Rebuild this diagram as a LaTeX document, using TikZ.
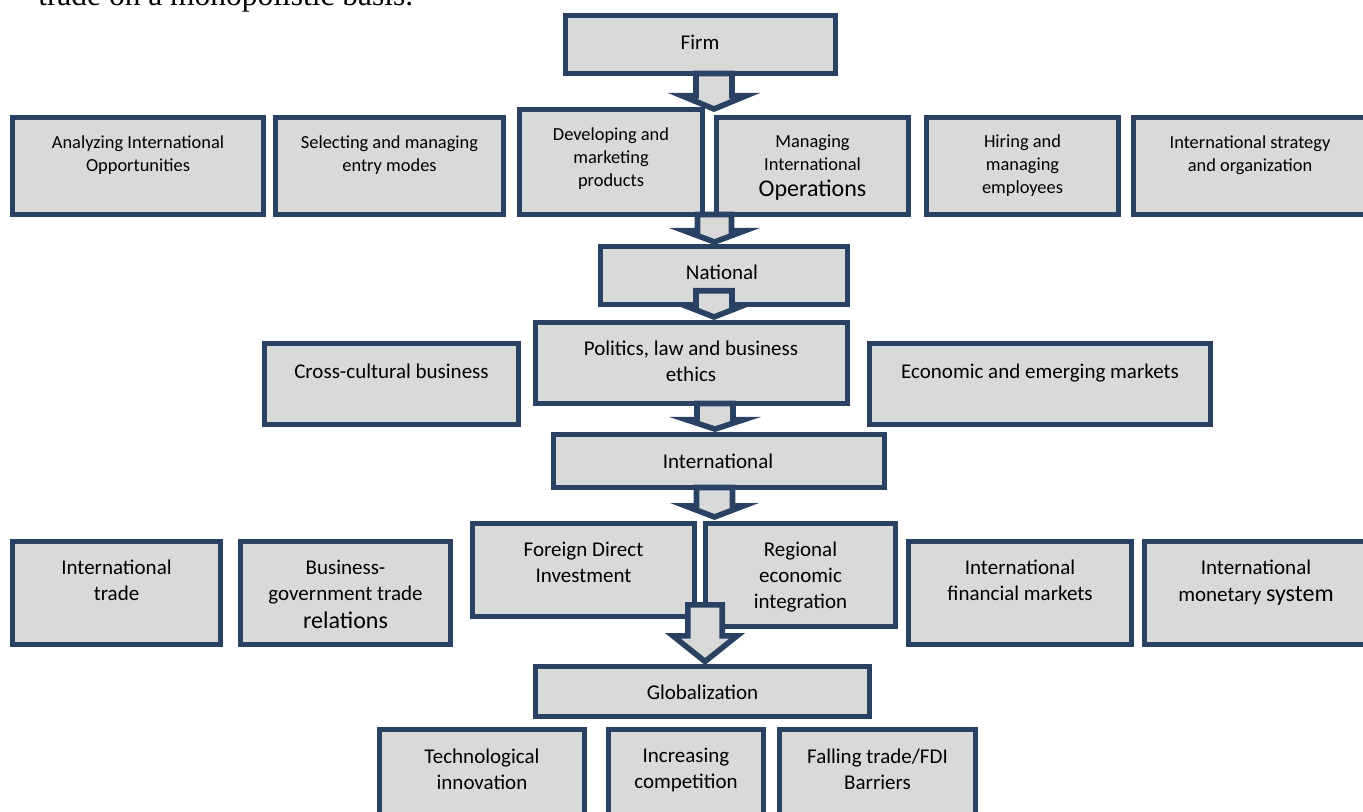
\documentclass[tikz,border=0pt]{standalone}
\usepackage{fontspec}
\setmainfont{Carlito}
\newfontfamily\topserif{Liberation Serif}
\usetikzlibrary{calc,fit}
\definecolor{bxline}{RGB}{41,65,99}
\definecolor{bxfill}{RGB}{217,217,217}
\tikzset{
  box/.style={draw=bxline, fill=bxfill, line width=3.75pt, inner sep=0pt, outer sep=0pt, rectangle},
  txt/.style={align=center, inner sep=0pt, text=black},
  fone/.style={font=\fontsize{13.8}{17.25}\selectfont},
  fmid/.style={font=\fontsize{15.75}{19.5}\selectfont},
  blk/.style={draw=bxline, fill=bxfill, line width=4.2pt, line join=miter, miter limit=10},
}
% box from outer edges (pixels): name, x1, y1, x2, y2
\newcommand\mkbox[5]{%
  \coordinate (#1-a) at (#2+2.5,#3+2.5);
  \coordinate (#1-b) at (#4-2.5,#5-2.5);
  \node[box, fit=(#1-a)(#1-b)] (#1) {};}
% block arrow: from, to, cx, top offset, shaft half, head half, head height, tip offset
\newcommand\blkarrow[8]{%
  \coordinate (ax) at (#3,0);
  \draw[blk] ($(ax |- #1.south)+(-#5,#4)$) -- ($(ax |- #2.north)+(-#5,#8-#7)$)
    -- ($(ax |- #2.north)+(-#6,#8-#7)$) -- ($(ax |- #2.north)+(0,#8)$)
    -- ($(ax |- #2.north)+(#6,#8-#7)$) -- ($(ax |- #2.north)+(#5,#8-#7)$)
    -- ($(ax |- #1.south)+(#5,#4)$) -- cycle;}
\begin{document}
\begin{tikzpicture}[x=0.75pt,y=-0.75pt]
\useasboundingbox (0,0) rectangle (1363,812);
\clip (0,0) rectangle (1363,812);

\node[anchor=base west, inner sep=0pt, font=\fontsize{23.6}{28}\topserif] (topline) at (38,6) {trade on a monopolistic basis.};

% boxes
\mkbox{firm}{563}{13}{838}{76}
\mkbox{ana}{10}{115}{266}{217}
\mkbox{sel}{273}{115}{506}{217}
\mkbox{dev}{517}{107}{705}{217}
\mkbox{man}{714}{115}{911}{217}
\mkbox{hir}{924}{115}{1121}{217}
\mkbox{str}{1131}{115}{1372}{217}
\mkbox{nat}{598}{244}{850}{307}
\mkbox{pol}{533}{320}{850}{406}
\mkbox{cro}{262}{341}{521}{427}
\mkbox{eco}{867}{341}{1213}{427}
\mkbox{int}{551}{432}{887}{490}
\mkbox{tra}{10}{539}{223}{647}
\mkbox{biz}{238}{539}{453}{647}
\mkbox{fdi}{470}{521}{697}{619}
\mkbox{reg}{703}{521}{898}{629}
\mkbox{fin}{906}{539}{1134}{647}
\mkbox{mon}{1142}{539}{1372}{647}
\mkbox{glo}{533}{664}{872}{719}
\mkbox{tec}{377}{727}{587}{830}
\mkbox{inc}{606}{727}{766}{830}
\mkbox{fal}{777}{727}{978}{830}

% block arrows
\blkarrow{firm}{man}{714}{0}{18}{32}{13.2}{-8.5}
\blkarrow{man}{nat}{714.5}{0}{17}{30}{11.2}{-4.5}
\blkarrow{nat}{pol}{714}{-13.7}{18}{26}{10.2}{-5.5}
\blkarrow{pol}{int}{715}{0}{18}{28.3}{9.3}{-5.4}
\blkarrow{int}{fdi}{714.5}{0}{18}{29.3}{11.2}{-6.5}
\blkarrow{fdi}{glo}{705}{-11.7}{17.2}{32}{25.6}{-5}

% texts
\node[txt,fmid] (firm-t) at (700,42) {Firm};
\node[txt,fone] (ana-t) at (138,155.5) {Analyzing International\\Opportunities};
\node[txt,fone] (sel-t) at (389.5,155.5) {Selecting and managing\\entry modes};
\node[txt,fone] (dev-t) at (611,159) {Developing and\\marketing\\products};
\node[txt,fone] (man-t) at (812.5,168) {Managing\\International\\[2.25pt]{\fontsize{18}{22}\selectfont Operations}};
\node[txt,fone] (hir-t) at (1022.5,166) {Hiring and\\managing\\employees};
\node[txt,fone] (str-t) at (1250,155.5) {International strategy\\and organization};
\node[txt,fmid] (nat-t) at (722,272) {National};
\node[txt,fmid] (pol-t) at (691,361) {Politics, law and business\\ethics};
\node[txt,fmid] (cro-t) at (391.5,371) {Cross-cultural business};
\node[txt,fmid] (eco-t) at (1040,373) {Economic and emerging markets};
\node[txt,fmid] (int-t) at (718,461) {International};
\node[txt,fmid] (tra-t) at (116.5,580) {International\\trade};
\node[txt,fmid] (biz-t) at (345.5,594.5) {Business-\\government trade\\[1pt]{\fontsize{18}{22}\selectfont relations}};
\node[txt,fmid] (fdi-t) at (583.5,562) {Foreign Direct\\Investment};
\node[txt,fmid] (reg-t) at (800.5,577) {Regional\\economic\\integration};
\node[txt,fmid] (fin-t) at (1020,580) {International\\financial markets};
\node[txt,fmid] (mon-t) at (1256,582.5) {International\\[0.75pt]monetary {\fontsize{18}{22}\selectfont system}};
\node[txt,fmid] (glo-t) at (702.5,692) {Globalization};
\node[txt,fmid] (tec-t) at (482,769.5) {Technological\\innovation};
\node[txt,fmid] (inc-t) at (686,769.5) {Increasing\\competition};
\node[txt,fmid] (fal-t) at (877.5,769.5) {Falling trade/FDI\\Barriers};
\end{tikzpicture}
\end{document}
